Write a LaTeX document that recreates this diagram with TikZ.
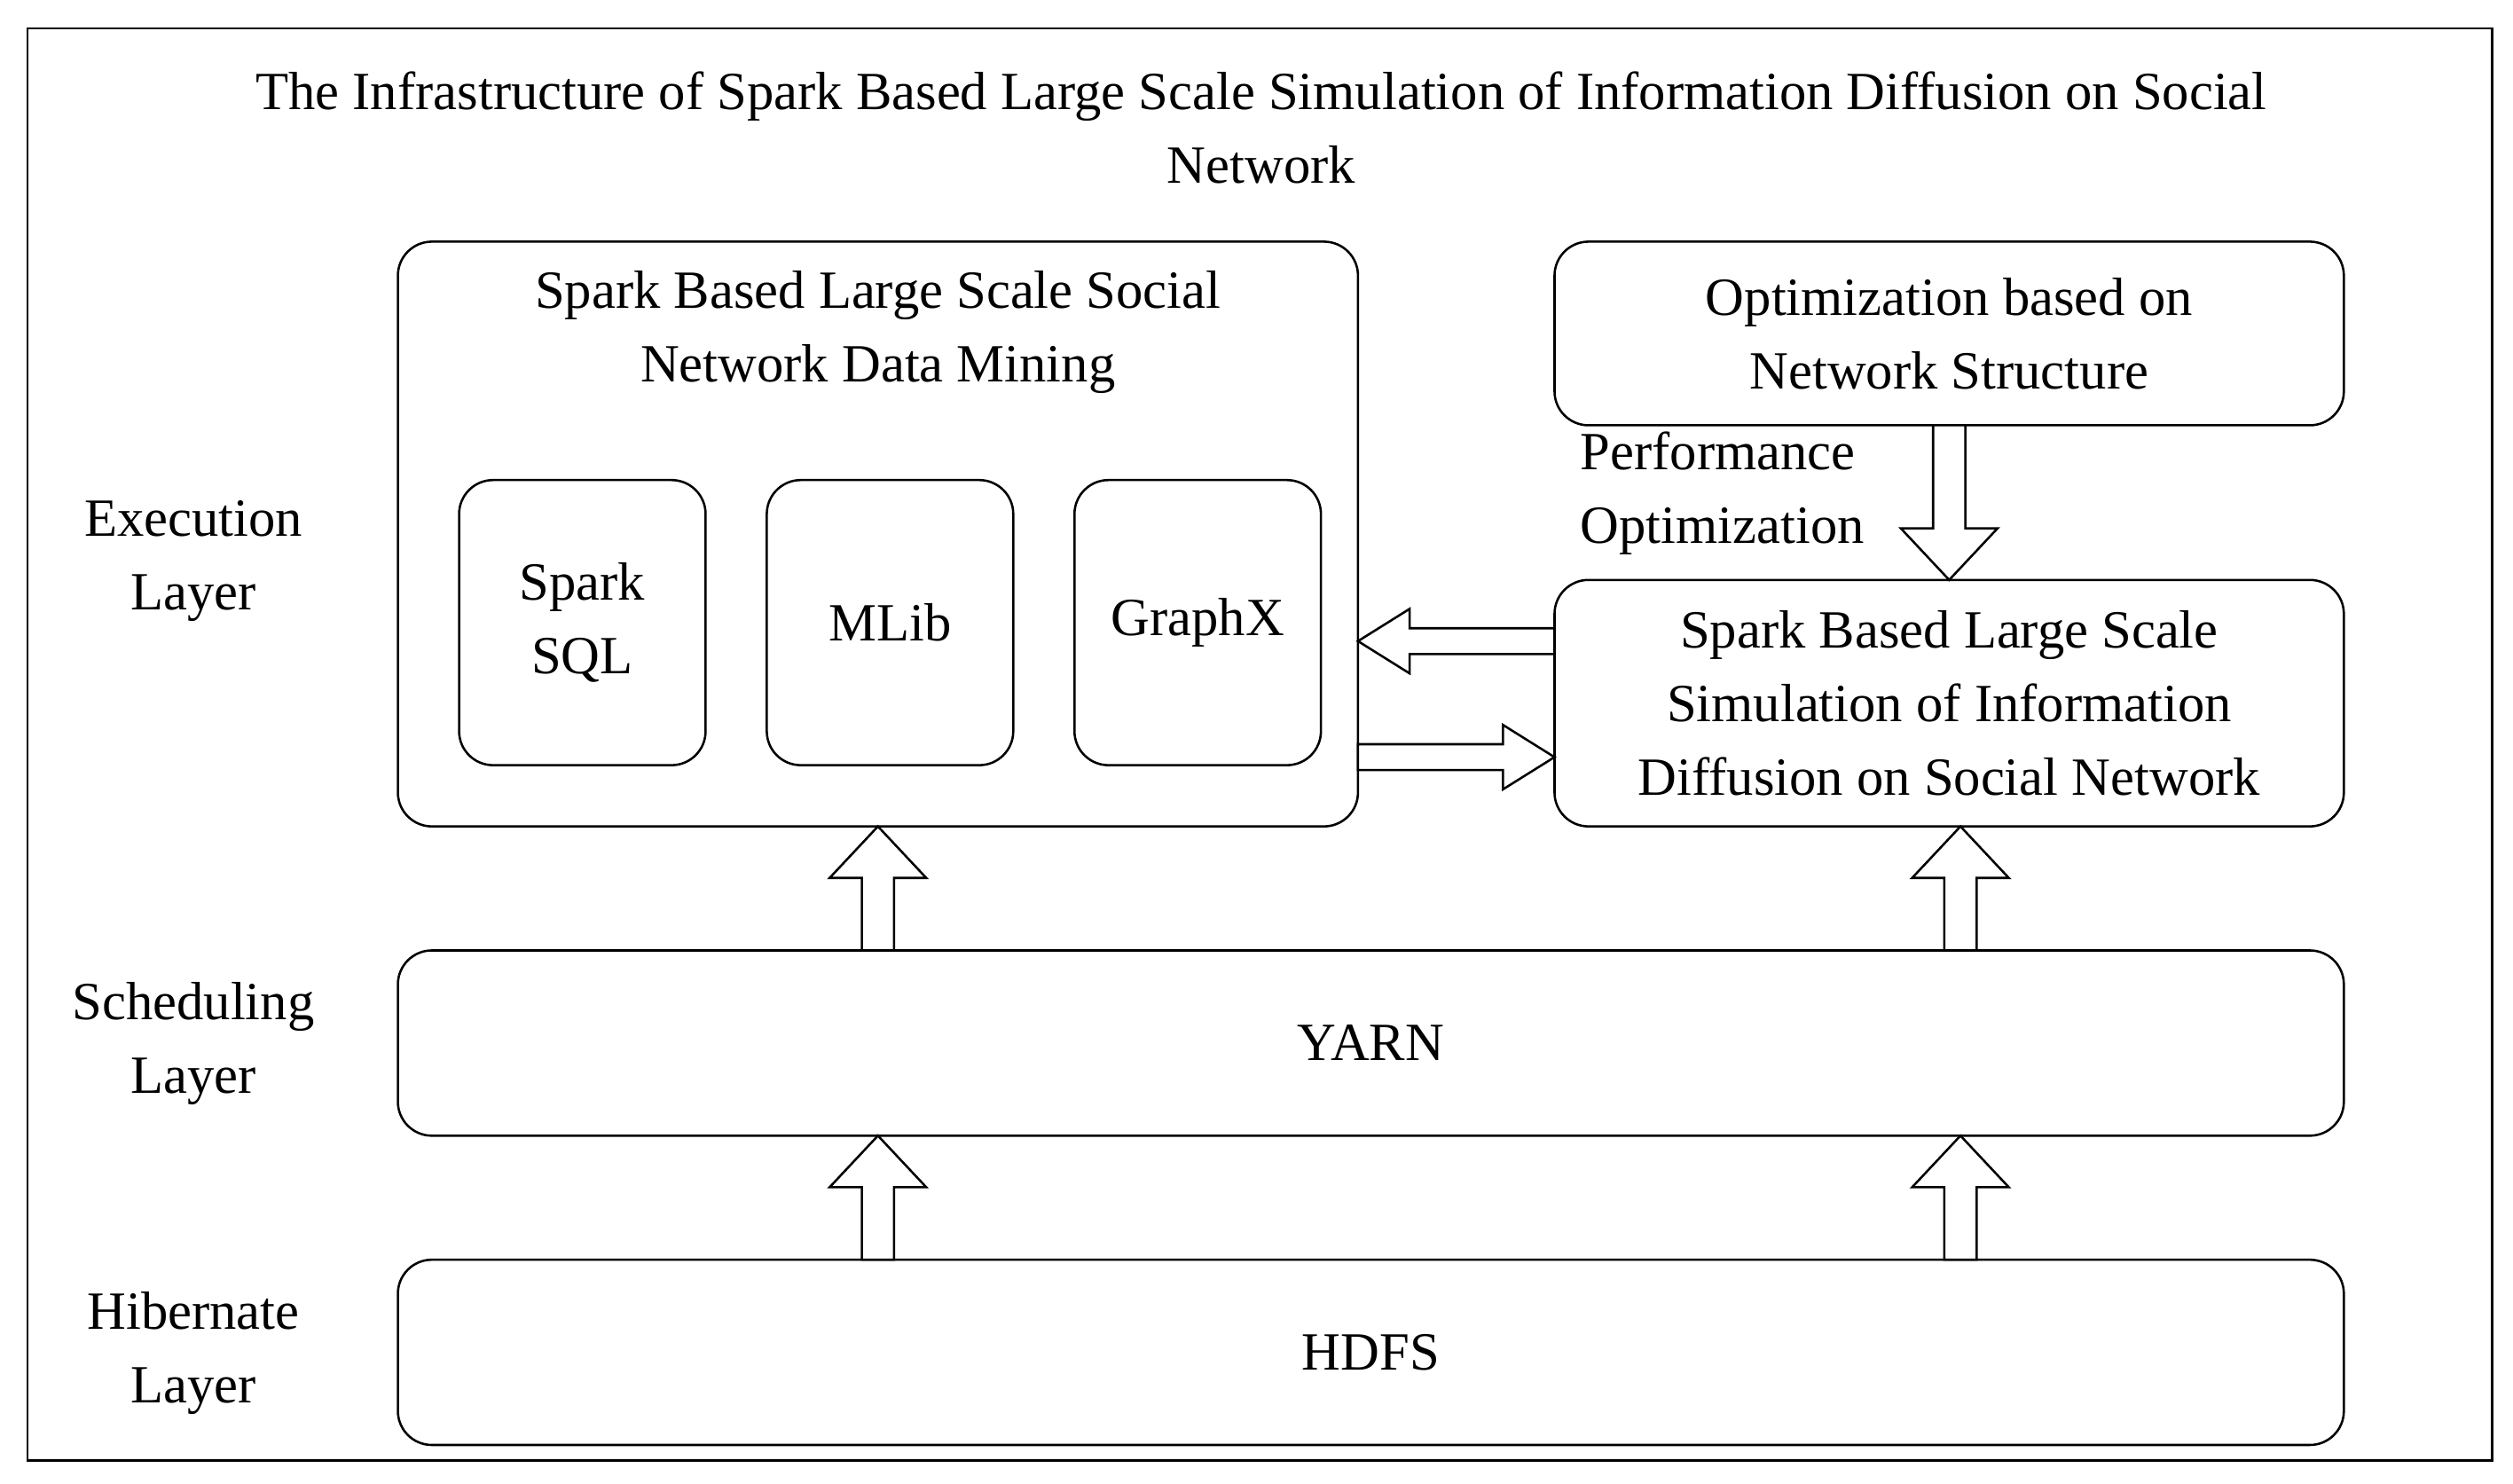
\documentclass[tikz,border=0pt]{standalone}
\usepackage{fontspec}
\setmainfont{Liberation Serif}
\begin{document}
\begin{tikzpicture}[x=0.02cm,y=-0.02cm,
  box/.style={draw,thick,rounded corners=12pt,inner sep=0pt,align=center},
  lab/.style={align=center,font=\fontsize{19}{26}\selectfont},
  hol/.style={draw,thick,fill=white,line join=miter}]
\useasboundingbox (0,0) rectangle (1560,921);
\node[draw,thick,minimum width=1530*0.02cm,minimum height=889*0.02cm,inner sep=0pt] (frame) at (782,462) {};
\node[lab] (title) at (783,79) {The Infrastructure of Spark Based Large Scale Simulation of Information Diffusion on Social\\Network};
\node[box,minimum width=596*0.02cm,minimum height=363*0.02cm] (mining) at (545,331.5) {};
\node[lab] (mt) at (545,206) {Spark Based Large Scale Social\\Network Data Mining};
\node[box,lab,minimum width=153*0.02cm,minimum height=177*0.02cm] (sql) at (361.5,386.5) {Spark\\SQL};
\node[box,lab,minimum width=153*0.02cm,minimum height=177*0.02cm] (mlib) at (552.5,386.5) {MLib};
\node[box,lab,minimum width=153*0.02cm,minimum height=177*0.02cm] (gx) at (743.5,386.5) {GraphX};
\node[box,lab,minimum width=490*0.02cm,minimum height=114*0.02cm] (opt) at (1210,207) {Optimization based on\\Network Structure};
\node[box,lab,minimum width=490*0.02cm,minimum height=153*0.02cm] (sim) at (1210,436.5) {Spark Based Large Scale\\Simulation of Information\\Diffusion on Social Network};
\node[box,lab,minimum width=1208*0.02cm,minimum height=115*0.02cm] (yarn) at (851,647.5) {YARN};
\node[box,lab,minimum width=1208*0.02cm,minimum height=115*0.02cm] (hdfs) at (851,839.5) {HDFS};
\node[lab] (l1) at (120,348) {Execution\\Layer};
\node[lab] (l2) at (120,648) {Scheduling\\Layer};
\node[lab] (l3) at (120,840) {Hibernate\\Layer};
\node[lab,align=left,anchor=west] (po) at (975,306) {Performance\\Optimization};
\newcommand\varrow[4]{\draw[hol] (#1-10,#2) -- (#1-10,#3+#4) -- (#1-30,#3+#4) -- (#1,#3) -- (#1+30,#3+#4) -- (#1+10,#3+#4) -- (#1+10,#2) -- cycle;}
\newcommand\harrow[4]{\draw[hol] (#2,#1-8) -- (#3+#4,#1-8) -- (#3+#4,#1-20) -- (#3,#1) -- (#3+#4,#1+20) -- (#3+#4,#1+8) -- (#2,#1+8) -- cycle;}
\varrow{545}{590}{513}{32}
\varrow{1217}{590}{513}{32}
\varrow{545}{782}{705}{32}
\varrow{1217}{782}{705}{32}
\varrow{1210}{264}{360}{-32}
\harrow{398}{965}{843}{32}
\harrow{470}{843}{965}{-32}
\end{tikzpicture}
\end{document}
